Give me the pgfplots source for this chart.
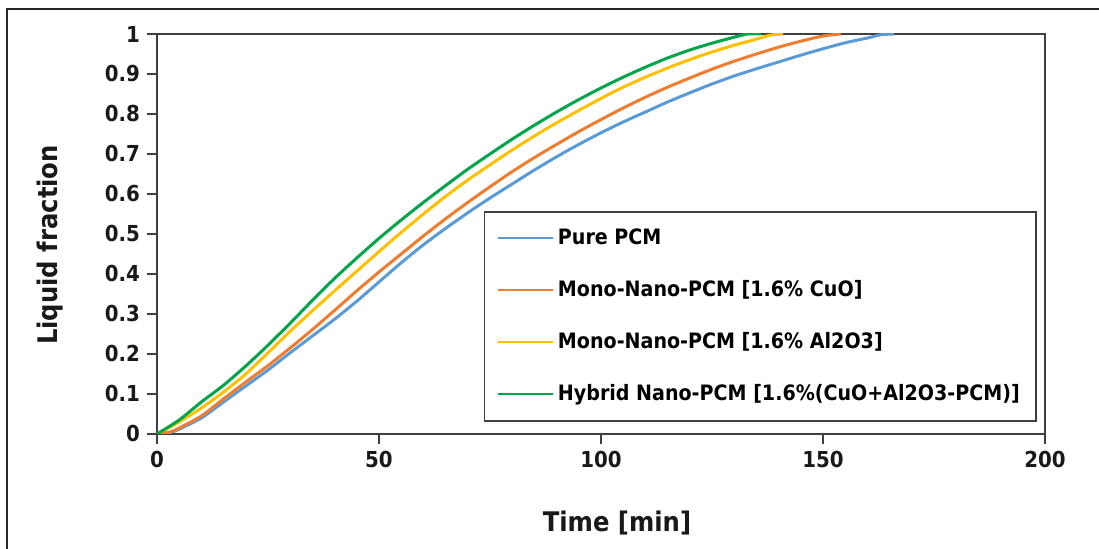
\documentclass[border=0pt]{standalone}
\usepackage{fontspec}
\setmainfont{DejaVu Sans Condensed}
\usepackage{pgfplots}
\pgfplotsset{compat=1.18}
\definecolor{cblue}{HTML}{5B9BD5}
\definecolor{corange}{HTML}{ED7D31}
\definecolor{cyellow}{HTML}{FFC000}
\definecolor{cgreen}{HTML}{00A44A}
\definecolor{axgray}{HTML}{404040}
\begin{document}
\begin{tikzpicture}
\path[use as bounding box, clip] (-78.5pt,-57.5pt) rectangle (471pt,217pt);
\draw[line width=1.1pt, black!85] (-75pt,-80pt) rectangle (490pt,212.5pt);
\begin{axis}[
  scale only axis, width=444pt, height=200pt,
  xmin=0, xmax=200, ymin=0, ymax=1,
  xtick={0,50,100,150,200}, ytick={0,0.1,...,1.0},
  yticklabels={0,0.1,0.2,0.3,0.4,0.5,0.6,0.7,0.8,0.9,1},
  axis line style={axgray, line width=0.8pt},
  tick style={axgray, line width=0.8pt},
  tick align=outside, major tick length=5pt,
  xtick pos=bottom, ytick pos=left,
  /pgf/number format/assume math mode=true,
  tick label style={font=\fontsize{11}{13}\selectfont\bfseries, text=black!90},
  label style={font=\fontsize{13.5}{16}\selectfont\bfseries, text=black!90},
  xlabel={Time [min]}, ylabel={Liquid fraction},
  xlabel style={at={(axis description cs:0.518,-0.2225)}, anchor=center},
  ylabel style={at={(axis description cs:-0.1205,0.4725)}, anchor=center},
  legend cell align=left,
  legend style={at={(axis description cs:0.368,0.5575)}, anchor=north west,
    draw=axgray, line width=0.8pt, font=\fontsize{10.6}{12.5}\selectfont\bfseries,
    row sep=12.5pt, inner xsep=6pt, inner ysep=6.5pt},
  legend image code/.code={\draw[#1, line width=1.2pt] (0pt,0pt) -- (27.5pt,0pt);},
  every axis plot/.append style={line width=1.5pt, smooth, tension=0.4},
]
\addplot[cblue] coordinates {(0,0)(3,0.004)(5,0.012)(10,0.04)(15,0.08)(20,0.12)(25,0.16)(30,0.203)(35,0.245)(40,0.287)(45,0.332)(50,0.38)(55,0.428)(60,0.473)(65,0.514)(70,0.553)(75,0.59)(80,0.625)(85,0.66)(90,0.693)(95,0.724)(100,0.753)(105,0.78)(110,0.805)(115,0.83)(120,0.853)(125,0.875)(130,0.895)(135,0.913)(140,0.93)(145,0.947)(150,0.963)(155,0.978)(160,0.99)(163,0.998)(166,1)};
\addlegendentry{Pure PCM}
\addplot[corange] coordinates {(0,0)(3,0.005)(5,0.015)(10,0.045)(15,0.088)(20,0.13)(25,0.171)(30,0.215)(35,0.261)(40,0.309)(45,0.358)(50,0.405)(55,0.45)(60,0.495)(65,0.538)(70,0.579)(75,0.618)(80,0.656)(85,0.691)(90,0.724)(95,0.756)(100,0.786)(105,0.815)(110,0.842)(115,0.867)(120,0.89)(125,0.912)(130,0.932)(135,0.95)(140,0.967)(145,0.982)(150,0.995)(154,1)};
\addlegendentry{Mono-Nano-PCM [1.6\% CuO]}
\addplot[cyellow] coordinates {(0,0)(5,0.03)(10,0.065)(15,0.105)(20,0.15)(25,0.203)(30,0.257)(35,0.308)(40,0.358)(45,0.407)(50,0.456)(55,0.504)(60,0.55)(65,0.594)(70,0.635)(75,0.673)(80,0.71)(85,0.745)(90,0.778)(95,0.809)(100,0.839)(105,0.867)(110,0.892)(115,0.915)(120,0.936)(125,0.955)(130,0.972)(135,0.987)(138,0.997)(141,1)};
\addlegendentry{Mono-Nano-PCM [1.6\% Al2O3]}
\addplot[cgreen] coordinates {(0,0)(5,0.035)(10,0.08)(15,0.122)(20,0.17)(25,0.222)(30,0.277)(35,0.334)(40,0.389)(45,0.44)(50,0.489)(55,0.535)(60,0.579)(65,0.621)(70,0.662)(75,0.70)(80,0.737)(85,0.772)(90,0.805)(95,0.836)(100,0.865)(105,0.892)(110,0.917)(115,0.94)(120,0.96)(125,0.977)(130,0.992)(133,1)(136,1)};
\addlegendentry{Hybrid Nano-PCM [1.6\%(CuO+Al2O3-PCM)]}
\end{axis}
\end{tikzpicture}
\end{document}
